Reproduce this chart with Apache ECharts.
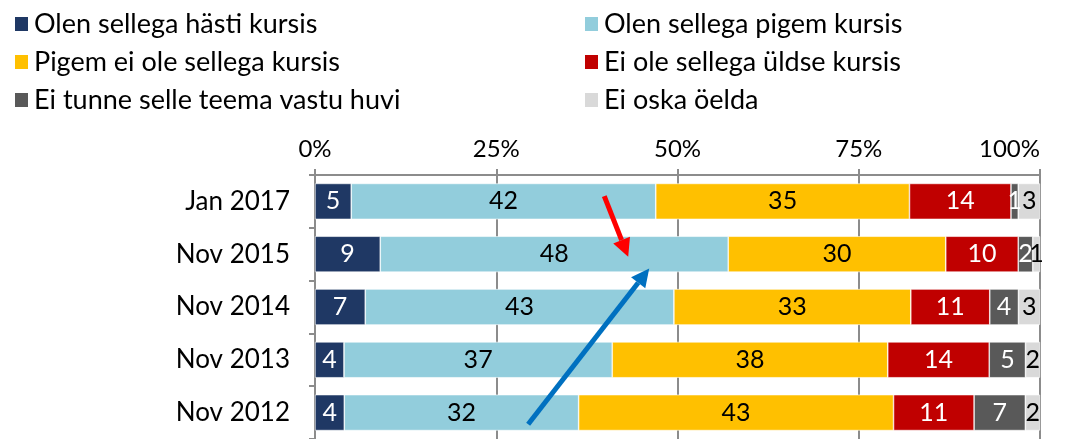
<!DOCTYPE html>
<html><head><meta charset="utf-8">
<script src="https://cdn.jsdelivr.net/npm/echarts@6/dist/echarts.min.js"></script>
<style>html,body{margin:0;padding:0;background:#fff}#c{width:1077px;height:439px}</style>
</head><body><div id="c"></div>
<script>
const categories = ['Jan 2017','Nov 2015','Nov 2014','Nov 2013','Nov 2012'];
const seriesNames = ['Olen sellega hästi kursis','Olen sellega pigem kursis','Pigem ei ole sellega kursis','Ei ole sellega üldse kursis','Ei tunne selle teema vastu huvi','Ei oska öelda'];
const hasti   = [5, 9, 7, 4, 4];
const pigem   = [42, 48, 43, 37, 32];
const pigemEi = [35, 30, 33, 38, 43];
const yldse   = [14, 10, 11, 14, 11];
const huvi    = [1, 2, 4, 5, 7];
const oska    = [3, 1, 3, 2, 2];
const xTicks = [0, 25, 50, 75, 100];
const colors = ['#1F3864','#92CDDC','#FFC000','#C00000','#595959','#D9D9D9'];
const labelColors = ['#fff','#000','#000','#fff','#fff','#000'];
// annotation arrows in data space [x%, category index]
const arrows = [
  {from:[39.9,-0.1], to:[43.2,1.05], color:'#FF0000'},
  {from:[29.4,4.22], to:[46.1,1.27], color:'#0070C0'}
];
const raw = [hasti, pigem, pigemEi, yldse, huvi, oska];
const sums = categories.map((c,i)=>raw.reduce((a,s)=>a+s[i],0));
const FONT = 'Lato';
const chart = echarts.init(document.getElementById('c'));
const series = raw.map((arr,k)=>({
  name: seriesNames[k], type:'bar', stack:'t', barWidth:'68%',
  itemStyle:{color:colors[k], borderColor:'#fff', borderWidth:0.6},
  data: arr.map((v,i)=>({value: v/sums[i]*100, raw:v})),
  label:{show:true, position:'inside', color:labelColors[k], fontFamily:FONT, fontSize:25,
    formatter:p=>String(p.data.raw)},
  emphasis:{disabled:true}
}));
const legendCommon = {orient:'vertical', icon:'rect', itemWidth:15, itemHeight:16, itemGap:8,
  textStyle:{fontFamily:FONT, fontSize:27, color:'#000', lineHeight:30}, selectedMode:false};
chart.setOption({
  animation:false,
  legend:[
    Object.assign({left:8, top:4, data:[seriesNames[0],seriesNames[2],seriesNames[4]]}, legendCommon),
    Object.assign({left:578, top:4, data:[seriesNames[1],seriesNames[3],seriesNames[5]]}, legendCommon)
  ],
  grid:{left:315, top:175, width:725, height:265, containLabel:false},
  xAxis:{type:'value', position:'top', min:0, max:100, interval:25,
    axisLine:{show:true, lineStyle:{color:'#8c8c8c', width:2}},
    axisTick:{show:true, length:6, lineStyle:{color:'#8c8c8c', width:2}},
    splitLine:{show:true, lineStyle:{color:'#8c8c8c', width:2}},
    axisLabel:{fontFamily:FONT, fontSize:24, color:'#000', margin:14, alignMaxLabel:'right',
      formatter:v=> xTicks.includes(v) ? v+'%' : ''}},
  yAxis:{type:'category', data:categories, inverse:true,
    axisLine:{show:true, lineStyle:{color:'#8c8c8c', width:2}},
    axisTick:{show:true, length:6, lineStyle:{color:'#8c8c8c', width:2}},
    axisLabel:{fontFamily:FONT, fontSize:26, color:'#000', margin:25}},
  series
});
function px(pt){
  const x = chart.convertToPixel({xAxisIndex:0}, pt[0]);
  const y0 = chart.convertToPixel({yAxisIndex:0}, 0);
  const y1 = chart.convertToPixel({yAxisIndex:0}, 1);
  return [x, y0 + (y1-y0)*pt[1]];
}
const g = [];
arrows.forEach(a=>{
  const p0 = px(a.from), p1 = px(a.to);
  const dx = p1[0]-p0[0], dy = p1[1]-p0[1], L = Math.hypot(dx,dy);
  const ux = dx/L, uy = dy/L, nx = -uy, ny = ux;
  const hl = 18, hw = 9;
  const bx = p1[0]-ux*hl, by = p1[1]-uy*hl;
  g.push({type:'line', shape:{x1:p0[0],y1:p0[1],x2:bx,y2:by}, style:{stroke:a.color, lineWidth:5}, z:100});
  g.push({type:'polygon', shape:{points:[[p1[0],p1[1]],[bx+nx*hw,by+ny*hw],[bx-nx*hw,by-ny*hw]]}, style:{fill:a.color}, z:100});
});
chart.setOption({graphic:g});
</script></body></html>
